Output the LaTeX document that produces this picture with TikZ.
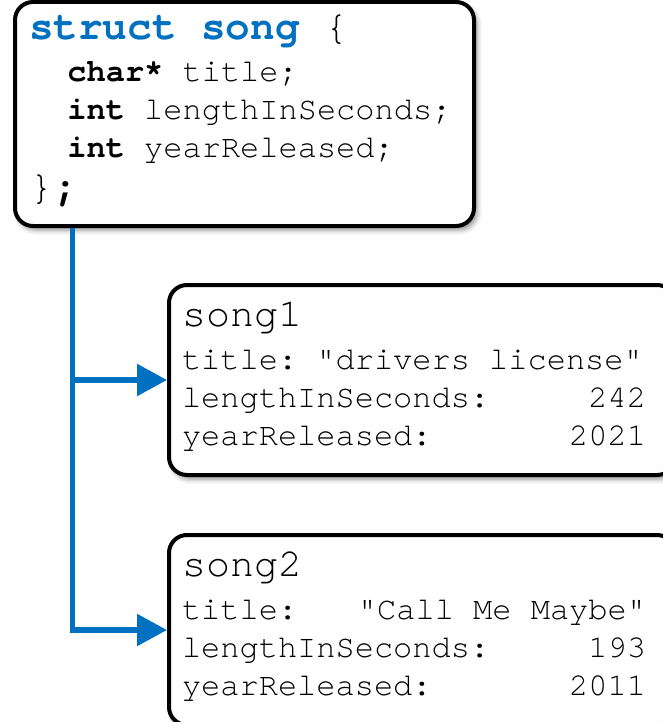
\documentclass[tikz,border=0pt]{standalone}
\usepackage{fontspec}
\setmonofont{texgyrecursor}[Extension=.otf,UprightFont=*-regular,BoldFont=*-bold]
\usetikzlibrary{positioning}
\usetikzlibrary{arrows.meta}
\usetikzlibrary{shadows.blur}
\definecolor{keyblue}{HTML}{0070C0}
\newcommand{\codefont}{\ttfamily\fontsize{32}{38}\selectfont\lineskiplimit-50pt\relax}
\tikzstyle{codebox}=[draw,line width=4pt,rounded corners=18pt,fill=white,align=left,font=\codefont,blur shadow={shadow xshift=3pt,shadow yshift=-4pt,shadow blur radius=5pt,shadow opacity=45}]
\tikzstyle{structbox}=[codebox,inner xsep=14pt,inner ysep=8pt,text width=431pt]
\tikzstyle{songbox}=[codebox,inner xsep=13pt,inner ysep=12pt,text width=480pt]
\newcommand{\bigtt}{\fontsize{41}{41}\selectfont}
\newcommand{\tsp}{\hspace*{0.6em}}
\newcommand{\indenttt}{\tsp\tsp}
\newcommand{\songfield}[2]{#1\hfill#2\hspace*{16pt}\null}

\begin{document}
\begin{tikzpicture}
	[x=1pt,y=-1pt,node distance=56pt]
	\tikzstyle{link}=[draw=keyblue,line width=5.5pt,-{Triangle[length=30pt,width=31pt]}];
	\useasboundingbox (0,0) rectangle (662,722);
	\node (songdef) [structbox,anchor=north west] at (13,0)
		{\rule{0pt}{30pt}{\bigtt\bfseries\color{keyblue}struct\tsp song\mdseries\color{black}\tsp\{}\\[4pt]
		\indenttt\textbf{char*}\tsp title;\\
		\indenttt\textbf{int}\tsp lengthInSeconds;\\
		\indenttt\textbf{int}\tsp yearReleased;\\[4pt]
		{\bigtt\}\textbf{;}}\rule[-18pt]{0pt}{18pt}};
	\coordinate (trunk) at ([xshift=59.5pt]songdef.south west);
	\node (song1) [songbox,below right=55pt and 154pt of songdef.south west,anchor=north west]
		{\rule{0pt}{29pt}{\fontsize{40}{40}\selectfont song1}\\[5pt]
		title:\tsp"drivers\tsp license"\\
		\songfield{lengthInSeconds:}{242}\\
		\songfield{yearReleased:}{2021}\rule[-18pt]{0pt}{18pt}};
	\node (song2) [songbox,below=56pt of song1.south west,anchor=north west]
		{\rule{0pt}{29pt}{\fontsize{40}{40}\selectfont song2}\\[5pt]
		\songfield{title:}{"Call\tsp Me\tsp Maybe"}\\
		\songfield{lengthInSeconds:}{193}\\
		\songfield{yearReleased:}{2011}\rule[-18pt]{0pt}{18pt}};
	\draw[link] (trunk |- song1.west) -- (song1.west);
	\draw[link] (trunk) |- (song2.west);
\end{tikzpicture}
\end{document}
